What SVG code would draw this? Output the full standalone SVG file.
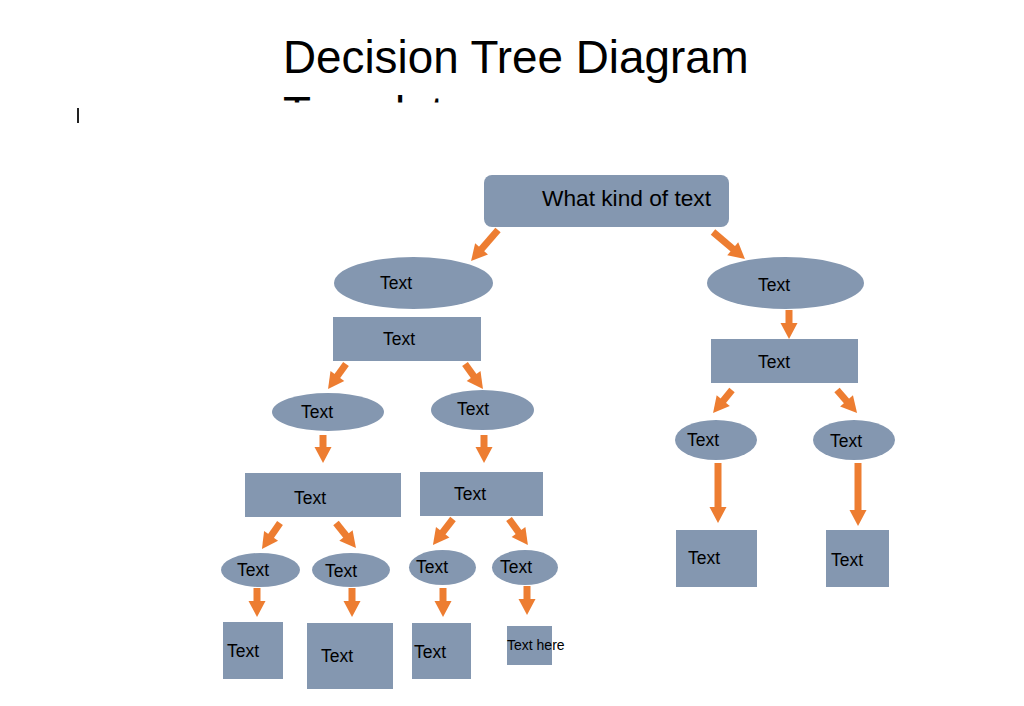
<svg xmlns="http://www.w3.org/2000/svg" width="1024" height="706" viewBox="0 0 1024 706">
<style>
.n{fill:#8497B0;}
.t{font-family:"Liberation Sans",Arial,sans-serif;font-size:17.5px;fill:#000;}
.c{stroke:#ED7D31;stroke-width:7;fill:none;marker-end:url(#ah);}
.title{font-family:"Liberation Sans",Arial,sans-serif;font-size:45.8px;fill:#000;}
</style>
<defs>
<marker id="ah" markerUnits="userSpaceOnUse" markerWidth="16" markerHeight="17" refX="1" refY="8.5" orient="auto" overflow="visible">
<path d="M0,0 L16,8.5 L0,17 z" fill="#ED7D31"/>
</marker>
<clipPath id="clip2"><rect x="0" y="90" width="1024" height="12.5"/></clipPath>
</defs>
<rect width="1024" height="706" fill="#fff"/>
<g id="title">
<text class="title" x="283" y="73">Decision Tree Diagram</text>
<text class="title" x="283" y="129" clip-path="url(#clip2)">Template</text>
</g>
<rect x="77" y="108" width="2" height="15" fill="#222"/>
<g id="connectors">
<line class="c" x1="498" y1="230" x2="480.9" y2="249.7"/>
<line class="c" x1="713" y1="232" x2="733.5" y2="249.3"/>
<line class="c" x1="789" y1="310" x2="789" y2="324"/>
<line class="c" x1="346" y1="364" x2="336.8" y2="376.8"/>
<line class="c" x1="465" y1="364" x2="474.2" y2="376.8"/>
<line class="c" x1="323" y1="435" x2="323" y2="448"/>
<line class="c" x1="484" y1="435" x2="484" y2="448"/>
<line class="c" x1="280" y1="523" x2="270.5" y2="536.7"/>
<line class="c" x1="336" y1="523" x2="346.6" y2="536.3"/>
<line class="c" x1="453" y1="519" x2="442.1" y2="533.1"/>
<line class="c" x1="509" y1="519" x2="519.1" y2="532.9"/>
<line class="c" x1="257" y1="588" x2="257" y2="602"/>
<line class="c" x1="352" y1="588" x2="352" y2="602"/>
<line class="c" x1="443" y1="588" x2="443" y2="602"/>
<line class="c" x1="527" y1="586" x2="527" y2="600"/>
<line class="c" x1="732" y1="390" x2="722.6" y2="401.4"/>
<line class="c" x1="837" y1="390" x2="847.2" y2="401.7"/>
<line class="c" x1="718" y1="463" x2="718" y2="508"/>
<line class="c" x1="858" y1="463" x2="858" y2="511"/>
</g>
<g id="root"><rect class="n" x="484" y="175" width="245" height="52" rx="8"/><text x="542" y="206" style="font-family:'Liberation Sans',Arial,sans-serif;font-size:22.7px">What kind of text</text></g>
<g id="l1e"><ellipse class="n" cx="413.5" cy="283" rx="79.5" ry="26"/><text class="t" x="380" y="289">Text</text></g>
<g id="l1r"><rect class="n" x="333" y="317" width="148" height="44"/><text class="t" x="383" y="345">Text</text></g>
<g id="r1e"><ellipse class="n" cx="785.5" cy="283" rx="78.5" ry="26"/><text class="t" x="758" y="291">Text</text></g>
<g id="r1r"><rect class="n" x="711" y="339" width="147" height="44"/><text class="t" x="758" y="368">Text</text></g>
<g id="l2a"><ellipse class="n" cx="328" cy="412" rx="56" ry="19"/><text class="t" x="301" y="418">Text</text></g>
<g id="l2b"><ellipse class="n" cx="482.5" cy="410" rx="51.5" ry="20"/><text class="t" x="457" y="415">Text</text></g>
<g id="l3a"><rect class="n" x="245" y="473" width="156" height="44"/><text class="t" x="294" y="504">Text</text></g>
<g id="l3b"><rect class="n" x="420" y="472" width="123" height="44"/><text class="t" x="454" y="500">Text</text></g>
<g id="l4a"><ellipse class="n" cx="260.5" cy="570" rx="39.5" ry="17"/><text class="t" x="237" y="576">Text</text></g>
<g id="l4b"><ellipse class="n" cx="351" cy="570" rx="39" ry="17"/><text class="t" x="325" y="577">Text</text></g>
<g id="l4c"><ellipse class="n" cx="442.5" cy="567.5" rx="33.5" ry="17.5"/><text class="t" x="416" y="573">Text</text></g>
<g id="l4d"><ellipse class="n" cx="525" cy="567.5" rx="33" ry="17.5"/><text class="t" x="500" y="573">Text</text></g>
<g id="l5a"><rect class="n" x="223" y="622" width="60" height="57"/><text class="t" x="227" y="657">Text</text></g>
<g id="l5b"><rect class="n" x="307" y="623" width="86" height="66"/><text class="t" x="321" y="662">Text</text></g>
<g id="l5c"><rect class="n" x="412" y="623" width="59" height="56"/><text class="t" x="414" y="658">Text</text></g>
<g id="l5d"><rect class="n" x="507" y="626" width="45" height="39"/><text x="507" y="650" style="font-family:'Liberation Sans',Arial,sans-serif;font-size:14px">Text here</text></g>
<g id="r2a"><ellipse class="n" cx="716" cy="440" rx="41" ry="20"/><text class="t" x="687" y="446">Text</text></g>
<g id="r2b"><ellipse class="n" cx="854" cy="440" rx="41" ry="20"/><text class="t" x="830" y="447">Text</text></g>
<g id="r3a"><rect class="n" x="676" y="530" width="81" height="57"/><text class="t" x="688" y="564">Text</text></g>
<g id="r3b"><rect class="n" x="826" y="530" width="63" height="57"/><text class="t" x="831" y="566">Text</text></g>
</svg>
